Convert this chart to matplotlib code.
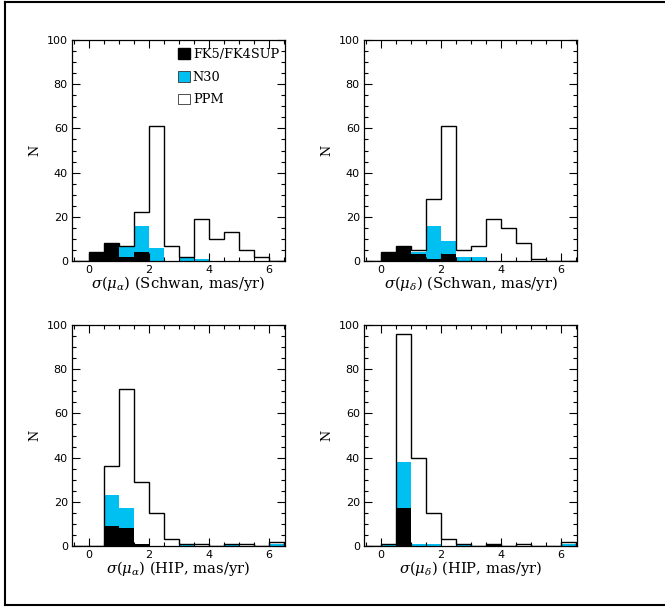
import numpy as np
import matplotlib
matplotlib.use("Agg")
import matplotlib.pyplot as plt
from matplotlib.patches import Patch
from matplotlib.lines import Line2D

# bin edges (mas/yr)
edges = np.arange(-0.5, 6.51, 0.5)

# counts per catalogue per bin (stacked: FK5, N30, PPM)
fk5_schwan_a = [0, 4, 8, 2, 4, 0, 0, 0, 0, 0, 0, 0, 0, 0]
n30_schwan_a = [0, 0, 0, 5, 12, 6, 0, 2, 1, 0, 0, 0, 0, 0]
ppm_schwan_a = [0, 0, 0, 0, 6, 55, 7, 0, 18, 10, 13, 5, 2, 0]

fk5_schwan_d = [0, 4, 7, 3, 1, 3, 0, 0, 0, 0, 0, 0, 0, 0]
n30_schwan_d = [0, 0, 0, 1, 15, 6, 2, 2, 0, 0, 0, 0, 0, 0]
ppm_schwan_d = [0, 0, 0, 1, 12, 52, 3, 5, 19, 15, 8, 1, 0, 0]

fk5_hip_a = [0, 0, 9, 8, 1, 0, 0, 0, 0, 0, 0, 0, 0, 0]
n30_hip_a = [0, 0, 14, 9, 0, 0, 0, 1, 0, 0, 1, 0, 0, 1]
ppm_hip_a = [0, 0, 13, 54, 28, 15, 3, 0, 1, 0, 0, 1, 0, 1]

fk5_hip_d = [0, 0, 17, 0, 0, 0, 0, 0, 1, 0, 0, 0, 0, 0]
n30_hip_d = [0, 1, 21, 1, 1, 0, 1, 0, 0, 0, 0, 0, 0, 1]
ppm_hip_d = [0, 0, 58, 39, 14, 3, 0, 0, 0, 0, 1, 0, 0, 1]

xlabels = [r"$\sigma(\mu_\alpha)$ (Schwan, mas/yr)",
           r"$\sigma(\mu_\delta)$ (Schwan, mas/yr)",
           r"$\sigma(\mu_\alpha)$ (HIP, mas/yr)",
           r"$\sigma(\mu_\delta)$ (HIP, mas/yr)"]
legend_labels = ["FK5/FK4SUP", "N30", "PPM"]

BLUE = "#00c0f2"
plt.rcParams["mathtext.fontset"] = "dejavuserif"

W, H = 665, 607
fig = plt.figure(figsize=(W / 100, H / 100), dpi=100)

panels = [
    (72, 40, fk5_schwan_a, n30_schwan_a, ppm_schwan_a),
    (364, 40, fk5_schwan_d, n30_schwan_d, ppm_schwan_d),
    (72, 325, fk5_hip_a, n30_hip_a, ppm_hip_a),
    (364, 325, fk5_hip_d, n30_hip_d, ppm_hip_d),
]
aw, ah = 213, 221

serif = "DejaVu Serif"
for i, (px, py, fk5, n30, ppm) in enumerate(panels):
    ax = fig.add_axes([px / W, 1 - (py + ah) / H, aw / W, ah / H])
    fk5 = np.array(fk5)
    n30 = np.array(n30)
    ppm = np.array(ppm)
    lvl_n30 = fk5 + n30
    total = lvl_n30 + ppm
    left = edges[:-1]
    ax.bar(left, lvl_n30, width=0.5, align="edge", color=BLUE, linewidth=0)
    ax.bar(left, fk5, width=0.5, align="edge", color="black", linewidth=0)
    ax.stairs(total, edges, color="black", linewidth=1.0, baseline=0)
    ax.set_xlim(-0.57, 6.55)
    ax.set_ylim(0, 100)
    ax.set_xticks([0, 2, 4, 6])
    ax.set_xticks(np.arange(-0.5, 6.51, 0.5), minor=True)
    ax.set_yticks(np.arange(0, 101, 20))
    ax.set_yticks(np.arange(0, 101, 5), minor=True)
    ax.tick_params(which="both", direction="in", top=True, right=True,
                   width=0.8, labelsize=8, pad=3)
    ax.tick_params(which="major", length=5.5)
    ax.tick_params(which="minor", length=3)
    for lab in ax.get_xticklabels() + ax.get_yticklabels():
        lab.set_fontfamily("DejaVu Sans")
    for s in ax.spines.values():
        s.set_linewidth(0.9)
    ax.set_xlabel(xlabels[i], fontfamily=serif, fontsize=10.6, labelpad=-0.5)
    ax.set_ylabel("N", fontfamily=serif, fontsize=9.3, labelpad=4)
    if i == 0:
        handles = [Patch(facecolor="black", edgecolor="black"),
                   Patch(facecolor=BLUE, edgecolor="#333333", linewidth=0.6),
                   Patch(facecolor="white", edgecolor="#333333", linewidth=0.6)]
        ax.legend(handles, legend_labels, loc="upper left",
                  bbox_to_anchor=((178 - 72) / aw, 1 - 8 / ah),
                  frameon=False, borderpad=0, borderaxespad=0,
                  handlelength=0.95, handleheight=0.9, handletextpad=0.2,
                  labelspacing=0.75,
                  prop={"family": serif, "size": 9.3})

# outer frame (left, top, bottom)
frame_kw = dict(color="black", linewidth=1.5, transform=fig.transFigure)
fig.add_artist(Line2D([5 / W, 5 / W], [1 - 605 / H, 1 - 1.5 / H], **frame_kw))
fig.add_artist(Line2D([5 / W, 1.0], [1 - 1.5 / H, 1 - 1.5 / H], **frame_kw))
fig.add_artist(Line2D([5 / W, 1.0], [1 - 605 / H, 1 - 605 / H], **frame_kw))

fig.savefig("out.png", dpi=100)
